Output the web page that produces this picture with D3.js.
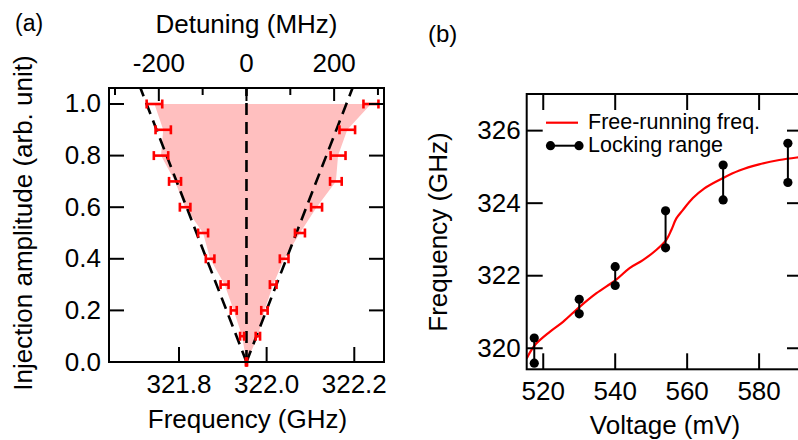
<!DOCTYPE html>
<html>
<head>
<meta charset="utf-8">
<script src="https://cdn.jsdelivr.net/npm/d3@7"></script>
<style>
  html, body { margin: 0; padding: 0; background: #fff; }
  svg { display: block; font-family: "Liberation Sans", Arial, Helvetica, sans-serif; }
</style>
</head>
<body>
<svg id="chart" width="798" height="440"></svg>
<script>
// ---- Panel (a): injection locking range vs. injection amplitude ----
const amplitude   = [0.0, 0.1, 0.2, 0.3, 0.4, 0.5, 0.6, 0.7, 0.8, 0.9, 1.0];
const lowerEdgeGHz = [321.954, 321.944, 321.925, 321.904, 321.871, 321.855, 321.814, 321.791, 321.759, 321.764, 321.744];
const lowerErrGHz  = [0.001, 0.0046, 0.0068, 0.0091, 0.0098, 0.0114, 0.0120, 0.0137, 0.0164, 0.0175, 0.0178];
const upperEdgeGHz = [321.954, 321.980, 321.995, 322.015, 322.040, 322.076, 322.114, 322.158, 322.163, 322.184, 322.238];
const upperErrGHz  = [0.001, 0.0050, 0.0073, 0.0076, 0.0099, 0.0114, 0.0125, 0.0133, 0.0170, 0.0178, 0.0171];
const centerGHz = 321.954;                 // zero detuning
const boundAmp = [0, 1.062];               // dashed guide lines (amplitude)
const boundMHz = [0, 242];                 // dashed guide lines (|detuning|)
const freqTicksA = [321.8, 322.0, 322.2];
const ampTicks = [0.0, 0.2, 0.4, 0.6, 0.8, 1.0];
const detTicksMajor = [-200, 0, 200];
const detTicksMinor = [-300, -100, 100, 300];

// ---- Panel (b): free-running frequency and locking range vs. voltage ----
const lockVoltage = [517.5, 530, 540, 554, 570, 588];
const lockLowGHz  = [319.59, 320.95, 321.73, 322.77, 324.09, 324.57];
const lockHighGHz = [320.28, 321.35, 322.25, 323.79, 325.05, 325.65];
const freeVoltage = [515.4, 517.7, 521.9, 525.5, 530.2, 534.8, 540.1, 544.0, 547.7, 551.4, 554.2, 555.6, 557.0, 558.8, 561.6, 564.8, 569.9, 574.5, 580.0, 585.6, 590.5, 592.5];
const freeGHz     = [319.72, 320.09, 320.46, 320.73, 321.15, 321.52, 321.88, 322.21, 322.43, 322.71, 322.99, 323.26, 323.58, 323.81, 324.14, 324.41, 324.69, 324.90, 325.07, 325.19, 325.26, 325.28];
const voltTicks = [520, 540, 560, 580];
const freqTicksB = [320, 322, 324, 326];

const svg = d3.select("#chart");
const FS = 26;

function frameTicks(g, scale, ticks, orient, len, size) {
  // inward tick marks along one side of the plot box
  g.selectAll(null).data(ticks).join("line")
    .attr("stroke", "#000").attr("stroke-width", 2)
    .each(function (t) {
      const s = d3.select(this), p = scale(t);
      if (orient === "bottom") s.attr("x1", p).attr("x2", p).attr("y1", size).attr("y2", size - len);
      if (orient === "top")    s.attr("x1", p).attr("x2", p).attr("y1", 0).attr("y2", len);
      if (orient === "left")   s.attr("y1", p).attr("y2", p).attr("x1", 0).attr("x2", len);
      if (orient === "right")  s.attr("y1", p).attr("y2", p).attr("x1", size).attr("x2", size - len);
    });
}

// ================= Panel (a) =================
{
  const L = 109, T = 88, W = 384 - 109, H = 362 - 88;
  const g = svg.append("g").attr("transform", `translate(${L},${T})`);
  const x = d3.scaleLinear().domain([321.6403, 322.2678]).range([0, W]);
  const xd = d3.scaleLinear().domain([(321.6403 - centerGHz) * 1000, (322.2678 - centerGHz) * 1000]).range([0, W]);
  const y = d3.scaleLinear().domain([0, 1.062]).range([H, 0]);

  g.append("clipPath").attr("id", "clipA").append("rect").attr("width", W).attr("height", H);

  // shaded locking region
  const poly = amplitude.map((a, i) => [x(lowerEdgeGHz[i]), y(a)])
    .concat(amplitude.map((a, i) => [x(upperEdgeGHz[i]), y(a)]).reverse());
  g.append("path").attr("d", d3.line()(poly)).attr("fill", "#ffbfbf").attr("stroke", "none");

  // dashed guide lines
  const gl = g.append("g").attr("clip-path", "url(#clipA)")
    .attr("fill", "none").attr("stroke", "#000").attr("stroke-width", 2.6).attr("stroke-dasharray", "12,7");
  gl.append("path").attr("d", d3.line()(boundAmp.map((a, i) => [xd(-boundMHz[i]), y(a)])));
  gl.append("path").attr("d", d3.line()(boundAmp.map((a, i) => [xd(boundMHz[i]), y(a)])));
  gl.append("path").attr("d", d3.line()(boundAmp.map(a => [xd(0), y(a)])));

  // error bars
  const bars = [];
  amplitude.forEach((a, i) => {
    bars.push({ a, c: lowerEdgeGHz[i], e: lowerErrGHz[i] });
    bars.push({ a, c: upperEdgeGHz[i], e: upperErrGHz[i] });
  });
  const eb = g.append("g").attr("stroke", "#ff0000").attr("stroke-width", 2.6).attr("fill", "none");
  bars.forEach(b => {
    const x0 = x(b.c - b.e), x1 = x(b.c + b.e), yy = y(b.a);
    eb.append("line").attr("x1", x0).attr("x2", x1).attr("y1", yy).attr("y2", yy);
    eb.append("line").attr("x1", x0).attr("x2", x0).attr("y1", yy - 4.5).attr("y2", yy + 4.5);
    eb.append("line").attr("x1", x1).attr("x2", x1).attr("y1", yy - 4.5).attr("y2", yy + 4.5);
  });

  // frame and ticks
  g.append("rect").attr("width", W).attr("height", H).attr("fill", "none").attr("stroke", "#000").attr("stroke-width", 2);
  frameTicks(g, x, freqTicksA, "bottom", 15, H);
  frameTicks(g, y, ampTicks, "left", 15, W);
  frameTicks(g, y, ampTicks, "right", 15, W);
  frameTicks(g, xd, detTicksMajor, "top", 13, H);
  frameTicks(g, xd, detTicksMinor, "top", 7, H);

  // tick labels
  g.selectAll(".xl").data(freqTicksA).join("text")
    .attr("x", d => x(d)).attr("y", H + 30.5).attr("text-anchor", "middle")
    .attr("font-size", FS).text(d => d3.format(".1f")(d));
  g.selectAll(".yl").data(ampTicks).join("text")
    .attr("x", -8).attr("y", d => y(d) + 8.5).attr("text-anchor", "end")
    .attr("font-size", FS).text(d => d3.format(".1f")(d));
  g.selectAll(".tl").data(detTicksMajor).join("text")
    .attr("x", d => xd(d)).attr("y", -16.5).attr("text-anchor", "middle")
    .attr("font-size", FS).text(d => d3.format("d")(d).replace("−", "-"));

  // titles
  svg.append("text").attr("x", L + xd(0)).attr("y", 33).attr("text-anchor", "middle")
    .attr("font-size", FS).text("Detuning (MHz)");
  svg.append("text").attr("x", L + W / 2 + 1).attr("y", 428).attr("text-anchor", "middle")
    .attr("font-size", FS).text("Frequency (GHz)");
  svg.append("text").attr("transform", "translate(32,223) rotate(-90)").attr("text-anchor", "middle")
    .attr("font-size", FS).text("Injection amplitude (arb. unit)");
  svg.append("text").attr("x", 15).attr("y", 31).attr("font-size", 23).text("(a)");
}

// ================= Panel (b) =================
{
  const L = 526.7, T = 94, W = 803 - 526.7, H = 369.3 - 94;
  const g = svg.append("g").attr("transform", `translate(${L},${T})`);
  const x = d3.scaleLinear().domain([515.4, 592.2]).range([0, W]);
  const y = d3.scaleLinear().domain([319.42, 327.01]).range([H, 0]);

  g.append("clipPath").attr("id", "clipB").append("rect").attr("width", W).attr("height", H);

  // free-running frequency
  g.append("path").attr("clip-path", "url(#clipB)")
    .attr("d", d3.line().x(d => x(d[0])).y(d => y(d[1])).curve(d3.curveCatmullRom)(freeVoltage.map((v, i) => [v, freeGHz[i]])))
    .attr("fill", "none").attr("stroke", "#ff0000").attr("stroke-width", 2.2);

  // locking ranges
  const lk = g.append("g");
  lockVoltage.forEach((v, i) => {
    lk.append("line").attr("x1", x(v)).attr("x2", x(v)).attr("y1", y(lockLowGHz[i])).attr("y2", y(lockHighGHz[i]))
      .attr("stroke", "#000").attr("stroke-width", 2);
    lk.append("circle").attr("cx", x(v)).attr("cy", y(lockLowGHz[i])).attr("r", 4.6).attr("fill", "#000");
    lk.append("circle").attr("cx", x(v)).attr("cy", y(lockHighGHz[i])).attr("r", 4.6).attr("fill", "#000");
  });

  // frame and ticks
  g.append("rect").attr("width", W).attr("height", H).attr("fill", "none").attr("stroke", "#000").attr("stroke-width", 2);
  frameTicks(g, x, voltTicks, "bottom", 16, H);
  frameTicks(g, x, voltTicks, "top", 16, H);
  frameTicks(g, y, freqTicksB, "left", 16, W);
  frameTicks(g, y, freqTicksB, "right", 16, W);

  g.selectAll(".xl").data(voltTicks).join("text")
    .attr("x", d => x(d)).attr("y", H + 31).attr("text-anchor", "middle")
    .attr("font-size", FS).text(d => d);
  g.selectAll(".yl").data(freqTicksB).join("text")
    .attr("x", -6).attr("y", d => y(d) + 8.5).attr("text-anchor", "end")
    .attr("font-size", FS).text(d => d);

  // legend
  const lg = g.append("g").attr("transform", "translate(19.3,28.7)");
  lg.append("line").attr("x1", 0).attr("x2", 32).attr("y1", 0).attr("y2", 0).attr("stroke", "#ff0000").attr("stroke-width", 2.2);
  lg.append("text").attr("x", 42).attr("y", 6).attr("font-size", 21.5).text("Free-running freq.");
  lg.append("line").attr("x1", 4.5).attr("x2", 33).attr("y1", 23).attr("y2", 23).attr("stroke", "#000").attr("stroke-width", 2);
  lg.append("circle").attr("cx", 4.5).attr("cy", 23).attr("r", 4.6).attr("fill", "#000");
  lg.append("circle").attr("cx", 33).attr("cy", 23).attr("r", 4.6).attr("fill", "#000");
  lg.append("text").attr("x", 42).attr("y", 29.5).attr("font-size", 21.5).text("Locking range");

  svg.append("text").attr("x", 665).attr("y", 433.5).attr("text-anchor", "middle")
    .attr("font-size", FS).text("Voltage (mV)");
  svg.append("text").attr("transform", "translate(447,232) rotate(-90)").attr("text-anchor", "middle")
    .attr("font-size", FS).text("Frequency (GHz)");
  svg.append("text").attr("x", 428).attr("y", 42).attr("font-size", 24).text("(b)");
}
</script>
</body>
</html>
